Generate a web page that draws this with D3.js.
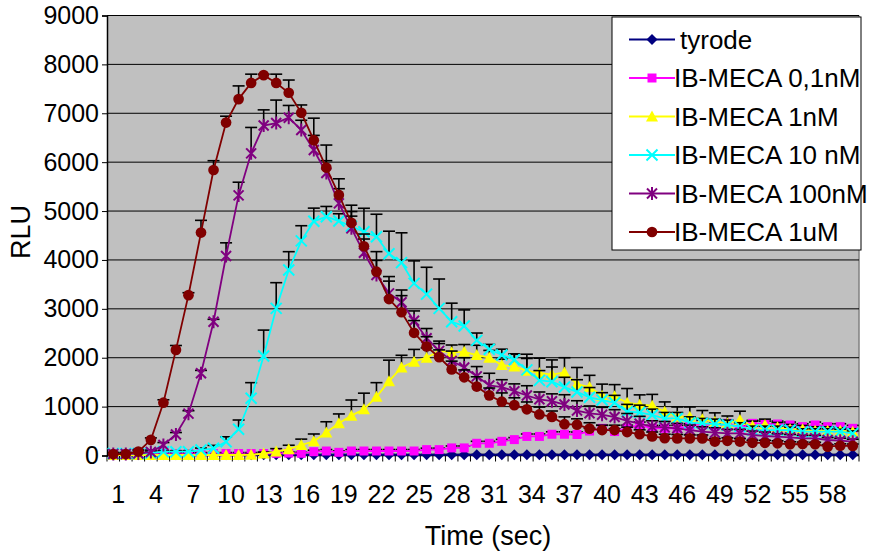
<!DOCTYPE html>
<html><head><meta charset="utf-8">
<script src="https://cdn.jsdelivr.net/npm/d3@7/dist/d3.min.js"></script>
<style>
html,body{margin:0;padding:0;background:#fff;}
svg{display:block;font-family:"Liberation Sans",Arial,sans-serif;}
</style></head>
<body><svg id="c" width="872" height="552"></svg>
<script>
const categories = [1,2,3,4,5,6,7,8,9,10,11,12,13,14,15,16,17,18,19,20,21,22,23,24,25,26,27,28,29,30,31,32,33,34,35,36,37,38,39,40,41,42,43,44,45,46,47,48,49,50,51,52,53,54,55,56,57,58,59,60];
const xTickLabels = [1,4,7,10,13,16,19,22,25,28,31,34,37,40,43,46,49,52,55,58];
const yTicks = [0,1000,2000,3000,4000,5000,6000,7000,8000,9000];
const seriesNames = ["tyrode","IB-MECA 0,1nM","IB-MECA 1nM","IB-MECA 10 nM","IB-MECA 100nM","IB-MECA 1uM"];
const seriesColors = ["#000080","#FF00FF","#FFFF00","#00FFFF","#800080","#800000"];
const seriesMarkers = ["diamond","square","triangle","x","star","circle"];

const tyrode = [15,15,15,15,15,15,15,15,15,15,15,15,15,15,15,15,15,15,15,15,15,15,15,15,15,15,15,15,15,15,15,15,15,15,15,15,15,15,15,15,15,15,15,15,15,15,15,15,15,15,15,15,15,15,15,15,15,15,15,15];
const tyrodeErr = [5,5,5,5,5,5,5,5,5,5,5,5,5,5,5,5,5,5,5,5,5,5,5,5,5,5,5,5,5,5,5,5,5,5,5,5,5,5,5,5,5,5,5,5,5,5,5,5,5,5,5,5,5,5,5,5,5,5,5,5];
const meca01 = [40,40,40,40,40,40,40,40,40,40,40,40,40,45,50,45,78,92,65,92,92,92,92,92,92,120,120,155,155,250,250,290,325,390,390,435,435,430,500,556,490,560,624,556,556,556,590,658,600,658,560,658,644,644,624,590,624,590,590,556];
const meca01Err = [20,20,20,20,20,20,20,20,20,20,20,20,20,20,20,20,30,30,30,30,30,30,30,30,30,30,30,40,40,40,40,40,40,50,50,50,50,50,60,60,60,60,60,60,60,60,60,60,60,60,60,60,60,60,60,60,60,60,60,60];
const meca1 = [10,10,10,10,10,10,10,10,10,10,10,15,40,80,130,215,290,470,660,815,945,1200,1520,1800,1920,2000,2140,2110,2120,2055,2000,1850,1820,1735,1690,1655,1700,1460,1400,1220,1210,1080,1040,1020,896,793,793,740,692,658,726,603,624,576,535,535,508,508,508,487];
const meca1Err = [10,10,10,10,10,10,10,10,10,10,10,10,30,60,80,120,150,220,190,320,330,290,430,250,250,200,200,150,150,200,150,120,250,250,300,300,300,340,240,240,240,290,200,230,200,200,200,180,180,150,180,100,120,100,100,80,80,80,60,60];
const meca10 = [40,40,40,50,78,78,78,112,147,282,536,1170,2035,3010,3794,4390,4790,4884,4795,4690,4577,4475,4128,3945,3521,3300,3010,2736,2648,2355,2172,2055,1960,1752,1537,1510,1400,1300,1190,1135,1080,896,880,828,760,760,671,658,644,624,590,521,521,521,521,487,487,487,487,453];
const meca10Err = [20,20,20,20,20,20,20,40,60,100,190,320,530,525,375,310,270,210,150,300,480,460,460,610,460,550,600,380,330,150,100,120,120,320,200,300,200,250,200,150,150,150,150,120,120,120,120,100,100,100,80,80,80,80,60,60,60,60,50,50];
const meca100 = [30,30,40,70,215,430,856,1681,2736,4080,5320,6180,6750,6800,6910,6657,6248,5780,5157,4646,4148,3691,3317,3135,2757,2397,2140,1936,1800,1619,1432,1400,1315,1227,1149,1111,1043,920,863,835,787,709,651,590,576,556,521,487,467,453,453,419,399,385,371,352,352,317,303,283];
const meca100Err = [20,20,20,40,50,40,60,60,50,270,270,530,320,470,250,200,300,250,300,250,280,300,250,250,200,200,150,200,200,200,250,150,150,200,150,150,200,200,150,150,150,150,150,120,120,100,100,100,100,80,80,80,80,60,60,60,60,50,50,50];
const meca1u = [30,30,80,320,1080,2160,3280,4560,5840,6810,7290,7620,7780,7620,7420,7010,6450,5890,5330,4760,4280,3760,3200,2930,2510,2230,2010,1760,1600,1410,1230,1100,1030,945,840,790,640,630,550,520,520,480,435,390,355,350,350,350,285,300,285,260,260,250,230,235,230,180,200,195];
const meca1uErr = [20,20,30,40,60,90,50,250,190,130,270,180,20,180,260,160,450,460,330,360,250,410,460,340,250,200,150,170,150,200,150,180,150,150,150,120,150,120,120,100,100,100,90,90,80,80,70,70,60,60,60,50,50,50,50,40,40,40,40,40];

const seriesValues = [tyrode, meca01, meca1, meca10, meca100, meca1u];
const seriesErrors = [tyrodeErr, meca01Err, meca1Err, meca10Err, meca100Err, meca1uErr];

const svg = d3.select("#c");
const L = 107, R = 859, T = 15.5, B = 455.5;
const x = d3.scaleBand().domain(categories).range([L, R]).padding(0);
const cx = c => x(c) + x.bandwidth()/2;
const y = d3.scaleLinear().domain([0, 9000]).range([B, T]);

// plot background
svg.append("rect").attr("x", L).attr("y", T).attr("width", R - L).attr("height", B - T).attr("fill", "#C0C0C0");
svg.append("line").attr("x1", R).attr("x2", R).attr("y1", T).attr("y2", B).attr("stroke", "#808080").attr("stroke-width", 1.5);

// gridlines
svg.append("g").selectAll("line").data(yTicks).join("line")
  .attr("x1", L).attr("x2", R).attr("y1", d => y(d)).attr("y2", d => y(d))
  .attr("stroke", "#000").attr("stroke-width", 1);

// y axis
const yAxis = svg.append("g").attr("transform", `translate(${L},0)`)
  .call(d3.axisLeft(y).tickValues(yTicks).tickSize(5).tickPadding(3).tickFormat(d3.format("d")));
yAxis.select(".domain").attr("stroke", "#000").attr("stroke-width", 1.5);
yAxis.selectAll("line").attr("stroke", "#000");
yAxis.selectAll("text").attr("font-size", 25).attr("fill", "#000").attr("font-family", "Liberation Sans, Arial, sans-serif");

// x axis: tick marks at category boundaries
const xAxisG = svg.append("g").attr("transform", `translate(0,${B})`);
xAxisG.call(d3.axisBottom(x).tickValues(xTickLabels).tickSize(0).tickPadding(30));
xAxisG.select(".domain").remove();
xAxisG.selectAll("text").attr("font-size", 25).attr("fill", "#000").attr("dx", 5)
  .attr("font-family", "Liberation Sans, Arial, sans-serif");
svg.append("line").attr("x1", L).attr("x2", R).attr("y1", B).attr("y2", B).attr("stroke", "#000").attr("stroke-width", 1.5);
svg.append("g").selectAll("line").data(categories.concat(["end"])).join("line")
  .attr("x1", d => d === "end" ? R : x(d)).attr("x2", d => d === "end" ? R : x(d))
  .attr("y1", B).attr("y2", B + 6).attr("stroke", "#000").attr("stroke-width", 1);

// axis titles
svg.append("text").attr("x", 488).attr("y", 545).attr("text-anchor", "middle")
  .attr("font-size", 27).text("Time (sec)");
svg.append("text").attr("transform", "translate(30,232) rotate(-90)").attr("text-anchor", "middle")
  .attr("font-size", 27).text("RLU");

// markers
function markerPath(type) {
  switch (type) {
    case "diamond": return "M0,-5.5L5.5,0L0,5.5L-5.5,0Z";
    case "square": return "M-4.5,-4.5H4.5V4.5H-4.5Z";
    case "triangle": return "M0,-6L6,5L-6,5Z";
    case "circle": return d3.symbol(d3.symbolCircle, 90)();
    case "x": return "M-5.5,-5.5L5.5,5.5M-5.5,5.5L5.5,-5.5";
    case "star": return "M-5,-5L5,5M-5,5L5,-5M0,-6.5V6.5";
  }
}
function styleMarker(sel, type, color) {
  if (type === "x" || type === "star") {
    sel.attr("fill", "none").attr("stroke", color).attr("stroke-width", 2);
  } else {
    sel.attr("fill", color).attr("stroke", "none");
  }
}

const line = d3.line().x(d => cx(d.c)).y(d => y(d.v));

seriesNames.forEach((name, si) => {
  const data = categories.map((c, i) => ({c, v: seriesValues[si][i], e: seriesErrors[si][i]}));
  const g = svg.append("g");
  const eb = g.append("g").selectAll("g").data(data).join("g");
  eb.append("line").attr("x1", d => cx(d.c)).attr("x2", d => cx(d.c))
    .attr("y1", d => y(d.v)).attr("y2", d => y(d.v + d.e)).attr("stroke", "#000").attr("stroke-width", 1.6);
  eb.append("line").attr("x1", d => cx(d.c) - 6).attr("x2", d => cx(d.c) + 6)
    .attr("y1", d => y(d.v + d.e)).attr("y2", d => y(d.v + d.e)).attr("stroke", "#000").attr("stroke-width", 1.6);
  g.append("path").datum(data).attr("d", line).attr("fill", "none")
    .attr("stroke", seriesColors[si]).attr("stroke-width", 1.8);
  const m = g.append("g").selectAll("path").data(data).join("path")
    .attr("transform", d => `translate(${cx(d.c)},${y(d.v)})`)
    .attr("d", markerPath(seriesMarkers[si]));
  styleMarker(m, seriesMarkers[si], seriesColors[si]);
});

// legend
const lg = svg.append("g");
lg.append("rect").attr("x", 612).attr("y", 17).attr("width", 249).attr("height", 233)
  .attr("fill", "#fff").attr("stroke", "#000").attr("stroke-width", 1);
seriesNames.forEach((name, si) => {
  const yy = 39.5 + si * 38.5;
  lg.append("line").attr("x1", 629).attr("x2", 675).attr("y1", yy).attr("y2", yy)
    .attr("stroke", seriesColors[si]).attr("stroke-width", 1.8);
  const mk = lg.append("path").attr("transform", `translate(652,${yy})`).attr("d", markerPath(seriesMarkers[si]));
  styleMarker(mk, seriesMarkers[si], seriesColors[si]);
  lg.append("text").attr("x", si === 0 ? 680 : 674).attr("y", yy + 9).attr("font-size", 26).text(name);
});
</script></body></html>
